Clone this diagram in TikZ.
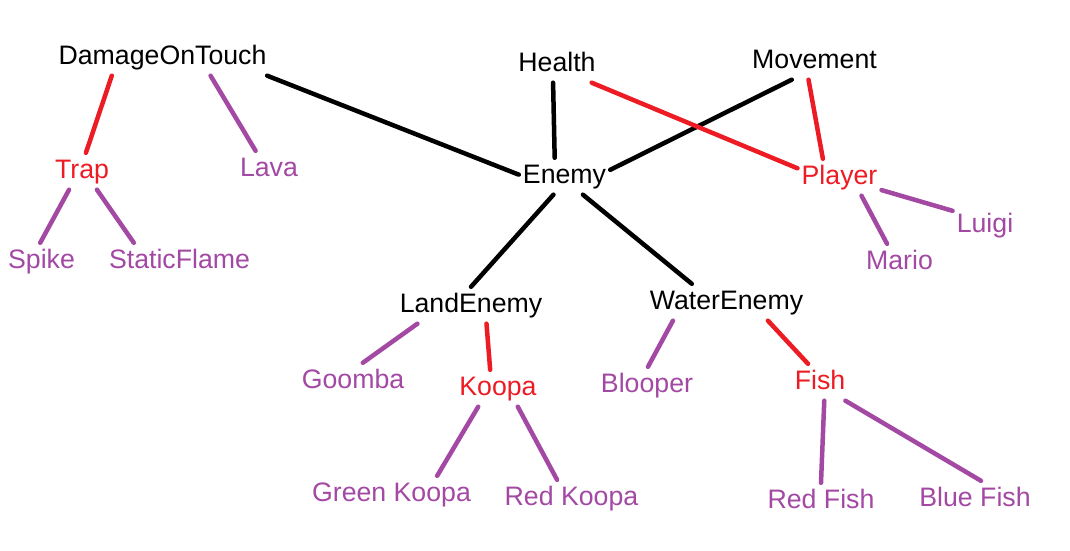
\documentclass[tikz,border=0pt]{standalone}
\usepackage{fontspec}
\setmainfont{Liberation Sans}
\usepackage{tikz}
\definecolor{paintred}{RGB}{237,28,36}
\definecolor{paintpurple}{RGB}{163,73,164}

\begin{document}
\begin{tikzpicture}[x=1pt,y=-1pt,
    word/.style={anchor=base,inner xsep=4pt,inner ysep=6pt,text height=19pt,text depth=5.5pt,
      font=\fontsize{26.7}{32}\selectfont},
    redword/.style={word,text=paintred},
    purpleword/.style={word,text=paintpurple},
    edgeblack/.style={line width=4.5pt,line cap=round,black},
    edgered/.style={line width=4.5pt,line cap=round,paintred},
    edgepurple/.style={line width=4.5pt,line cap=round,paintpurple}]
    \fill[white] (0,0) rectangle (1070,551);
    \node[word] (dot) at (162.5,64) {DamageOnTouch};
    \node[word] (health) at (557,71) {Health};
    \node[word] (movement) at (814.5,68) {Movement};
    \node[word] (enemy) at (564.5,183) {Enemy};
    \node[redword] (player) at (839.5,184) {Player};
    \node[redword] (trap) at (82,178) {Trap};
    \node[purpleword] (lava) at (269,176) {Lava};
    \node[purpleword] (spike) at (41.5,268) {Spike};
    \node[purpleword] (staticflame) at (179.5,268) {StaticFlame};
    \node[purpleword] (luigi) at (985,232) {Luigi};
    \node[purpleword] (mario) at (899.5,269) {Mario};
    \node[word] (landenemy) at (471,312) {LandEnemy};
    \node[word] (waterenemy) at (726.5,309) {WaterEnemy};
    \node[purpleword] (goomba) at (353,388) {Goomba};
    \node[redword] (koopa) at (498,395) {Koopa};
    \node[purpleword] (blooper) at (647,392) {Blooper};
    \node[redword] (fish) at (820,389) {Fish};
    \node[purpleword] (greenkoopa) at (391.5,501) {Green Koopa};
    \node[purpleword] (redkoopa) at (571.5,505) {Red Koopa};
    \node[purpleword] (redfish) at (821,508) {Red Fish};
    \node[purpleword] (bluefish) at (975,506) {Blue Fish};

    \draw[edgeblack] (dot.-10) -- (enemy.178);
    \draw[edgeblack] (health.-102) -- (enemy.118);
    \draw[edgeblack] (movement.-141) -- (enemy.8);
    \draw[edgeblack] (enemy.-121) -- (landenemy.north);
    \draw[edgeblack] (enemy.-45) -- (waterenemy.152);

    \draw[edgered] (dot.-160) -- (trap.78);
    \draw[edgered] (health.-28) -- (player.168);
    \draw[edgered] (movement.-108) -- (player.132);
    \draw[edgered] (landenemy.-50) -- (koopa.113);
    \draw[edgered] (waterenemy.-24) -- (fish.123);

    \draw[edgepurple] (dot.-21) -- (lava.126);
    \draw[edgepurple] (trap.-125) -- (spike.94);
    \draw[edgepurple] (trap.-51) -- (staticflame.158);
    \draw[edgepurple] (player.-40) -- (mario.124);
    \draw[edgepurple] (player.-17) -- (luigi.156);
    \draw[edgepurple] (landenemy.-161) -- (goomba.62);
    \draw[edgepurple] (waterenemy.-161) -- (blooper.87);
    \draw[edgepurple] (koopa.-137) -- (greenkoopa.22);
    \draw[edgepurple] (koopa.-43) -- (redkoopa.128);
    \draw[edgepurple] (fish.-77) -- (redfish.north);
    \draw[edgepurple] (fish.-36) -- (bluefish.72);
\end{tikzpicture}
\end{document}
